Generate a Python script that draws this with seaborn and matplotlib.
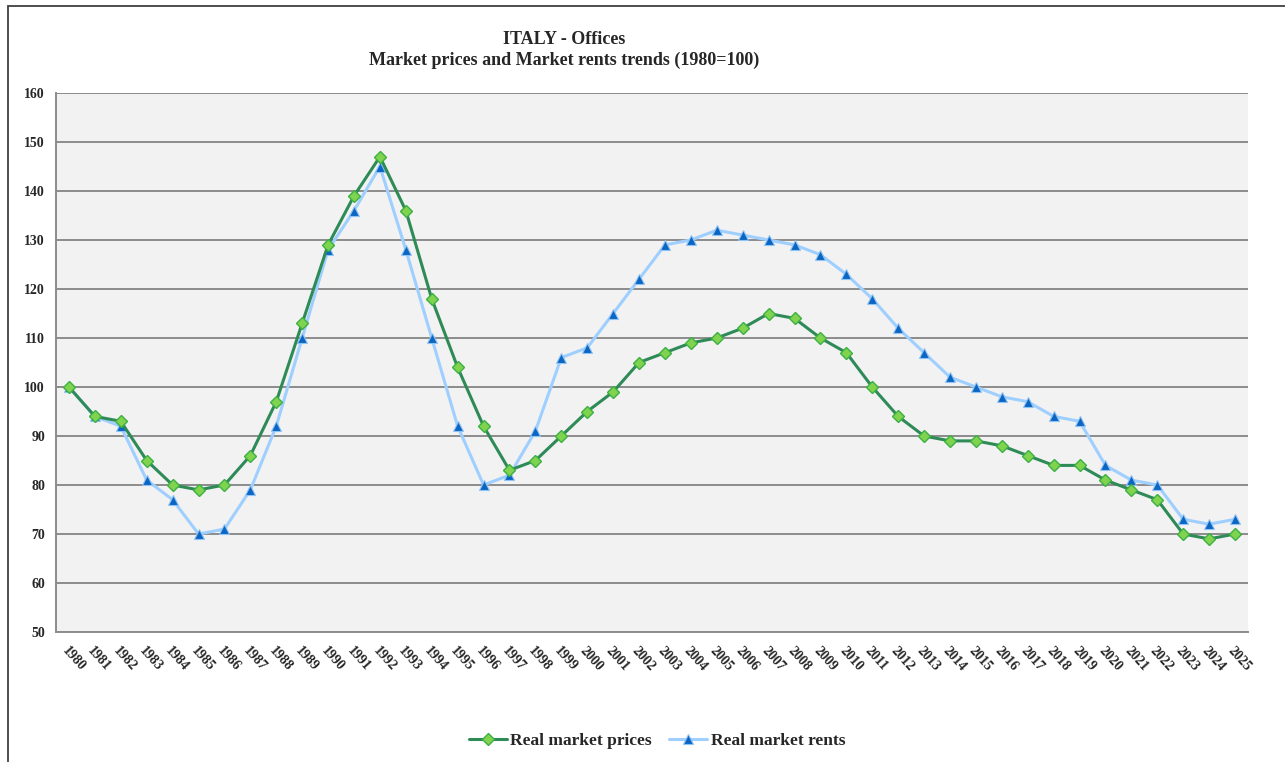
import matplotlib
matplotlib.use("Agg")
import matplotlib.pyplot as plt
import seaborn as sns
import pandas as pd
import numpy as np
from matplotlib.patches import Rectangle
from matplotlib.ticker import FixedLocator

years = list(range(1980, 2026))
prices = [100, 94, 93, 85, 80, 79, 80, 86, 97, 113, 129, 139, 147, 136, 118, 104, 92, 83,
          85, 90, 95, 99, 105, 107, 109, 110, 112, 115, 114, 110, 107, 100, 94, 90, 89, 89,
          88, 86, 84, 84, 81, 79, 77, 70, 69, 70]
rents = [100, 94, 92, 81, 77, 70, 71, 79, 92, 110, 128, 136, 145, 128, 110, 92, 80, 82,
         91, 106, 108, 115, 122, 129, 130, 132, 131, 130, 129, 127, 123, 118, 112, 107, 102,
         100, 98, 97, 94, 93, 84, 81, 80, 73, 72, 73]
series_names = ["Real market prices", "Real market rents"]
title_lines = ["ITALY - Offices", "Market prices and Market rents trends (1980=100)"]

sns.set_style("white")
plt.rcParams['font.family'] = ['Liberation Serif', 'DejaVu Serif']
plt.rcParams['font.weight'] = 'bold'

df = pd.DataFrame({"year": years, series_names[0]: prices, series_names[1]: rents})
df["pos"] = np.arange(len(years))

fig = plt.figure(figsize=(12.85, 7.62), dpi=100)
ax = fig.add_axes([56/1285, 1-632/762, (1248-56)/1285, (632-93)/762])
ax.set_facecolor("#f2f2f2")

# outer frame
fig.patches.append(Rectangle((8/1285, -0.1), 1.2, 1 - 6/762 + 0.1, transform=fig.transFigure,
                             fill=False, edgecolor="#404040", linewidth=1.3, zorder=0))

sns.lineplot(data=df, x="pos", y=series_names[0], ax=ax, color="#2e8b57", linewidth=2.2,
             marker="D", markersize=6.5, markerfacecolor="#7fd34e", markeredgecolor="#3cb043",
             markeredgewidth=1.0, label=series_names[0], zorder=4)
sns.lineplot(data=df, x="pos", y=series_names[1], ax=ax, color="#9fcfff", linewidth=2.2,
             marker="^", markersize=7.5, markerfacecolor="#0a66c2", markeredgecolor="#8fc3f5",
             markeredgewidth=0.8, label=series_names[1], zorder=3)

n = len(years)
ax.set_xlim(-0.5, n - 0.5)
ax.set_ylim(50, 160)
ax.set_yticks(np.arange(50, 161, 10))
ax.yaxis.grid(True, color="#8c8c8c", linewidth=1.4)
ax.xaxis.grid(False)
ax.set_axisbelow(True)

ax.set_xticks(np.arange(n))
ax.set_xticklabels([str(y) for y in years], rotation=-48, ha="left", va="top",
                   rotation_mode="anchor", fontsize=10, fontweight="bold")
ax.xaxis.set_minor_locator(FixedLocator(np.arange(-0.5, n, 1.0)))
ax.tick_params(axis="x", which="major", length=0, pad=9)
ax.tick_params(axis="x", which="minor", length=5, color="#8c8c8c", width=1.2, direction="out")
ax.tick_params(axis="y", length=5, color="#8c8c8c", width=1.2, direction="out", labelsize=10, pad=3)
for lbl in ax.get_yticklabels():
    lbl.set_fontweight("bold")

for s in ["top", "right"]:
    ax.spines[s].set_visible(False)
for s in ["left", "bottom"]:
    ax.spines[s].set_color("#8c8c8c")
    ax.spines[s].set_linewidth(1.4)

ax.set_xlabel("")
ax.set_ylabel("")

fig.text(564/1285, 1-39/762, title_lines[0], ha="center", va="center", fontsize=13, fontweight="bold")
fig.text(564/1285, 1-60/762, title_lines[1], ha="center", va="center", fontsize=13, fontweight="bold")

ax.legend(loc="center", bbox_to_anchor=(657/1285, 1-741/762), bbox_transform=fig.transFigure,
          ncol=2, frameon=False, handlelength=2.2, columnspacing=1.0,
          handletextpad=0.2, prop={"weight": "bold", "size": 12.5})

fig.savefig("out.png", dpi=100)
